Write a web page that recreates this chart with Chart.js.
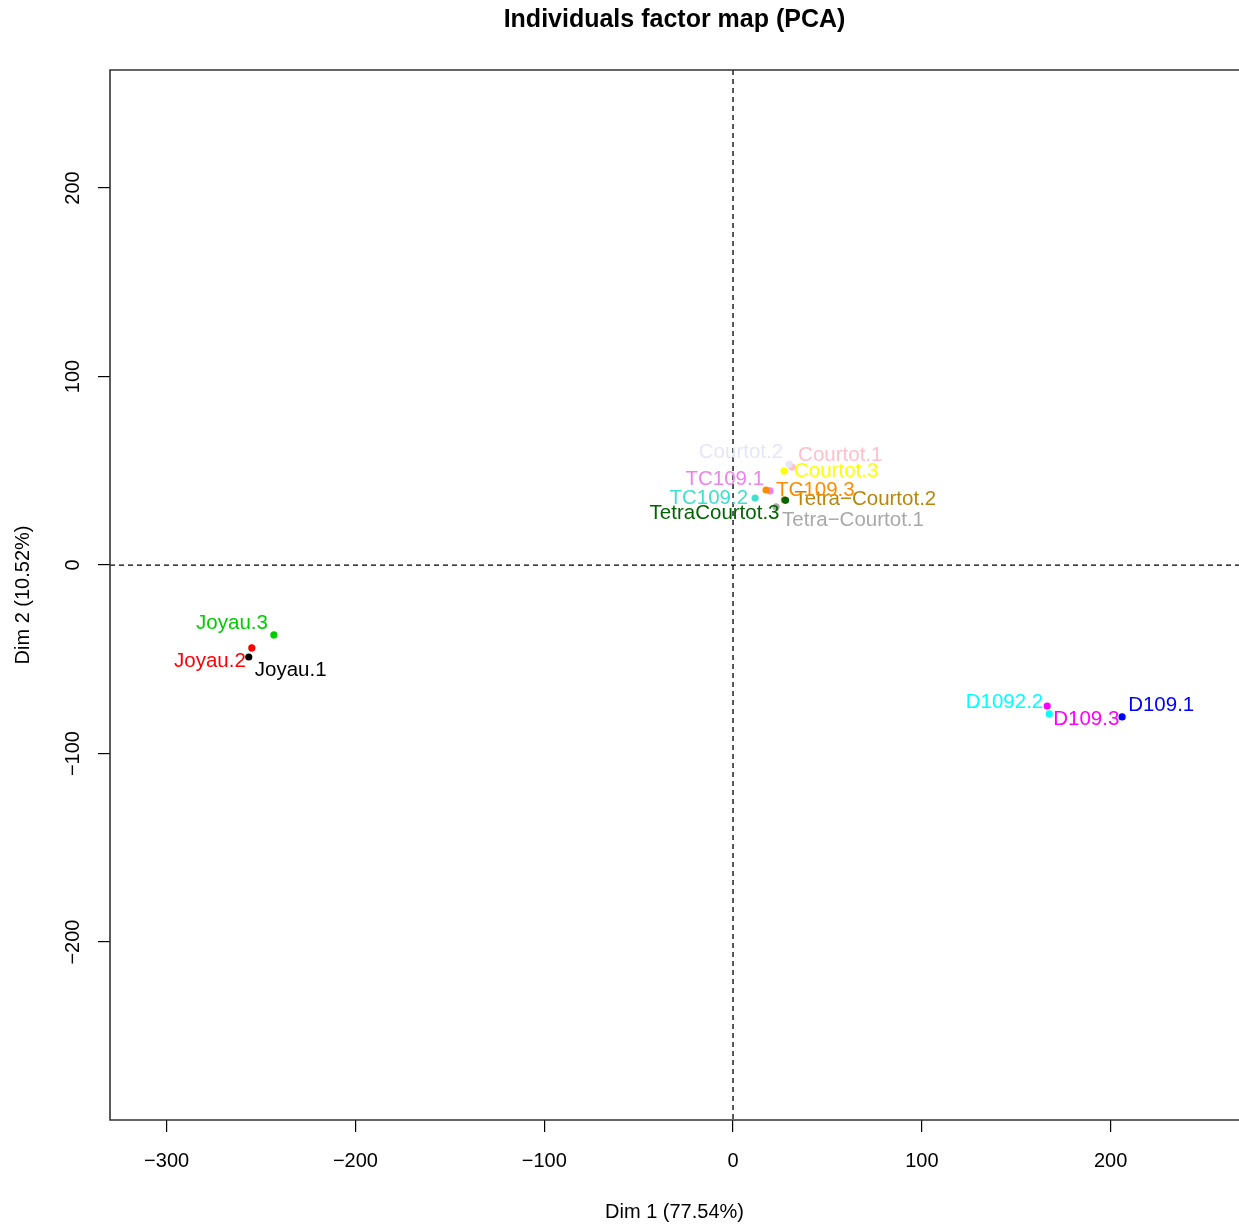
<!DOCTYPE html>
<html>
<head>
<meta charset="utf-8">
<script src="https://cdn.jsdelivr.net/npm/chart.js@4/dist/chart.umd.min.js"></script>
<style>
  html, body { margin: 0; padding: 0; background: #fff; }
</style>
</head>
<body>
<canvas id="pca" width="1239" height="1227"></canvas>
<script>
// individuals and their coordinates on the first two dimensions
const names = ['Joyau.1', 'Joyau.2', 'Joyau.3',
  'Courtot.1', 'Courtot.2', 'Courtot.3',
  'Tetra\u2212Courtot.1', 'Tetra\u2212Courtot.2', 'TetraCourtot.3',
  'D109.1', 'D1092.2', 'D109.3',
  'TC109.1', 'TC109.2', 'TC109.3'];
const dim1 = [-256.5, -254.9, -243.2,
  31.3, 29.7, 27.0,
  22.8, 27.2, 27.8,
  206.1, 167.5, 166.4,
  19.6, 11.7, 17.5];
const dim2 = [-48.8, -44.0, -37.1,
  52.0, 53.6, 49.9,
  30.8, 34.6, 34.3,
  -80.6, -79.0, -74.8,
  39.3, 35.5, 39.8];
const xTicks = [-300, -200, -100, 0, 100, 200];
const yTicks = [-200, -100, 0, 100, 200];

const colors = ['#000000', '#FF0000', '#00CD00',
  '#FFC0CB', '#E6E6FA', '#FFFF00',
  '#A9A9A9', '#B8860B', '#006400',
  '#0000FF', '#00FFFF', '#FF00FF',
  '#EE82EE', '#40E0D0', '#FF8C00'];
// where each label sits relative to its point
const labelPos = ['br', 'bl', 'tl', 'tr', 'tl', 'r', 'br', 'r', 'bl', 'tr', 'tl', 'br', 'tl', 'l', 'r'];
const offsets = {
  tl: ['right', -6, -12], tr: ['left', 6, -12],
  l: ['right', -7, 0], r: ['left', 10, 0],
  bl: ['right', -6, 13], br: ['left', 6, 13]
};

const family = '"Liberation Sans", Arial, sans-serif';
const minus = v => String(v).replace('-', '\u2212');

const frame = {
  id: 'frame',
  beforeDatasetsDraw(chart) {
    const { ctx, chartArea: a, scales: { x, y } } = chart;
    const x0 = x.getPixelForValue(0), y0 = y.getPixelForValue(0);
    ctx.save();
    ctx.strokeStyle = '#000';
    ctx.lineWidth = 1.3;
    ctx.setLineDash([5, 4]);
    ctx.beginPath();
    ctx.moveTo(x0, a.top); ctx.lineTo(x0, a.bottom);
    ctx.moveTo(a.left, y0); ctx.lineTo(a.right, y0);
    ctx.stroke();
    ctx.setLineDash([]);
    ctx.strokeStyle = '#333';
    ctx.lineWidth = 1.6;
    ctx.beginPath();
    ctx.moveTo(a.right + 2, a.top); ctx.lineTo(a.left, a.top);
    ctx.lineTo(a.left, a.bottom); ctx.lineTo(a.right + 2, a.bottom);
    ctx.stroke();
    ctx.restore();
  }
};

const pointLabels = {
  id: 'pointLabels',
  afterDatasetsDraw(chart) {
    const { ctx } = chart;
    const meta = chart.getDatasetMeta(0);
    ctx.save();
    ctx.font = '20.5px ' + family;
    ctx.textBaseline = 'middle';
    meta.data.forEach((pt, i) => {
      const [align, dx, dy] = offsets[labelPos[i]];
      ctx.textAlign = align;
      ctx.fillStyle = colors[i];
      ctx.fillText(names[i], pt.x + dx, pt.y + dy);
    });
    ctx.restore();
  }
};

new Chart(document.getElementById('pca'), {
  type: 'scatter',
  data: {
    datasets: [{
      data: dim1.map((v, i) => ({ x: v, y: dim2[i] })),
      pointBackgroundColor: colors,
      pointBorderWidth: 0,
      pointRadius: 3.6
    }]
  },
  options: {
    responsive: false,
    animation: false,
    layout: { padding: 0, autoPadding: false },
    plugins: {
      legend: { display: false },
      tooltip: { enabled: false },
      title: {
        display: true,
        fullSize: false,
        text: 'Individuals factor map (PCA)',
        color: '#000',
        font: { family, size: 25, weight: 'bold' },
        padding: { top: 5, bottom: 35 }
      }
    },
    scales: {
      x: {
        type: 'linear',
        min: -330, max: 268,
        afterBuildTicks: s => { s.ticks = xTicks.map(v => ({ value: v })); },
        afterFit: s => { s.height = 107; },
        border: { display: false },
        grid: { drawOnChartArea: false, drawTicks: true, tickLength: 12, color: '#000', lineWidth: 1.2 },
        ticks: { color: '#000', font: { family, size: 20 }, padding: 17, maxRotation: 0, callback: minus },
        title: { display: true, text: 'Dim 1 (77.54%)', color: '#000', font: { family, size: 20 }, padding: { top: 0, bottom: 3 } }
      },
      y: {
        type: 'linear',
        min: -294.4, max: 262.6,
        afterBuildTicks: s => { s.ticks = yTicks.map(v => ({ value: v })); },
        afterFit: s => { s.width = 110; },
        border: { display: false },
        grid: { drawOnChartArea: false, drawTicks: true, tickLength: 12, color: '#000', lineWidth: 1.2 },
        ticks: { color: '#000', font: { family, size: 20 }, padding: 2, minRotation: 90, maxRotation: 90, crossAlign: 'center', callback: minus },
        title: { display: true, text: 'Dim 2 (10.52%)', color: '#000', font: { family, size: 20 }, padding: { top: 11, bottom: 0 } }
      }
    }
  },
  plugins: [frame, pointLabels]
});
</script>
</body>
</html>
